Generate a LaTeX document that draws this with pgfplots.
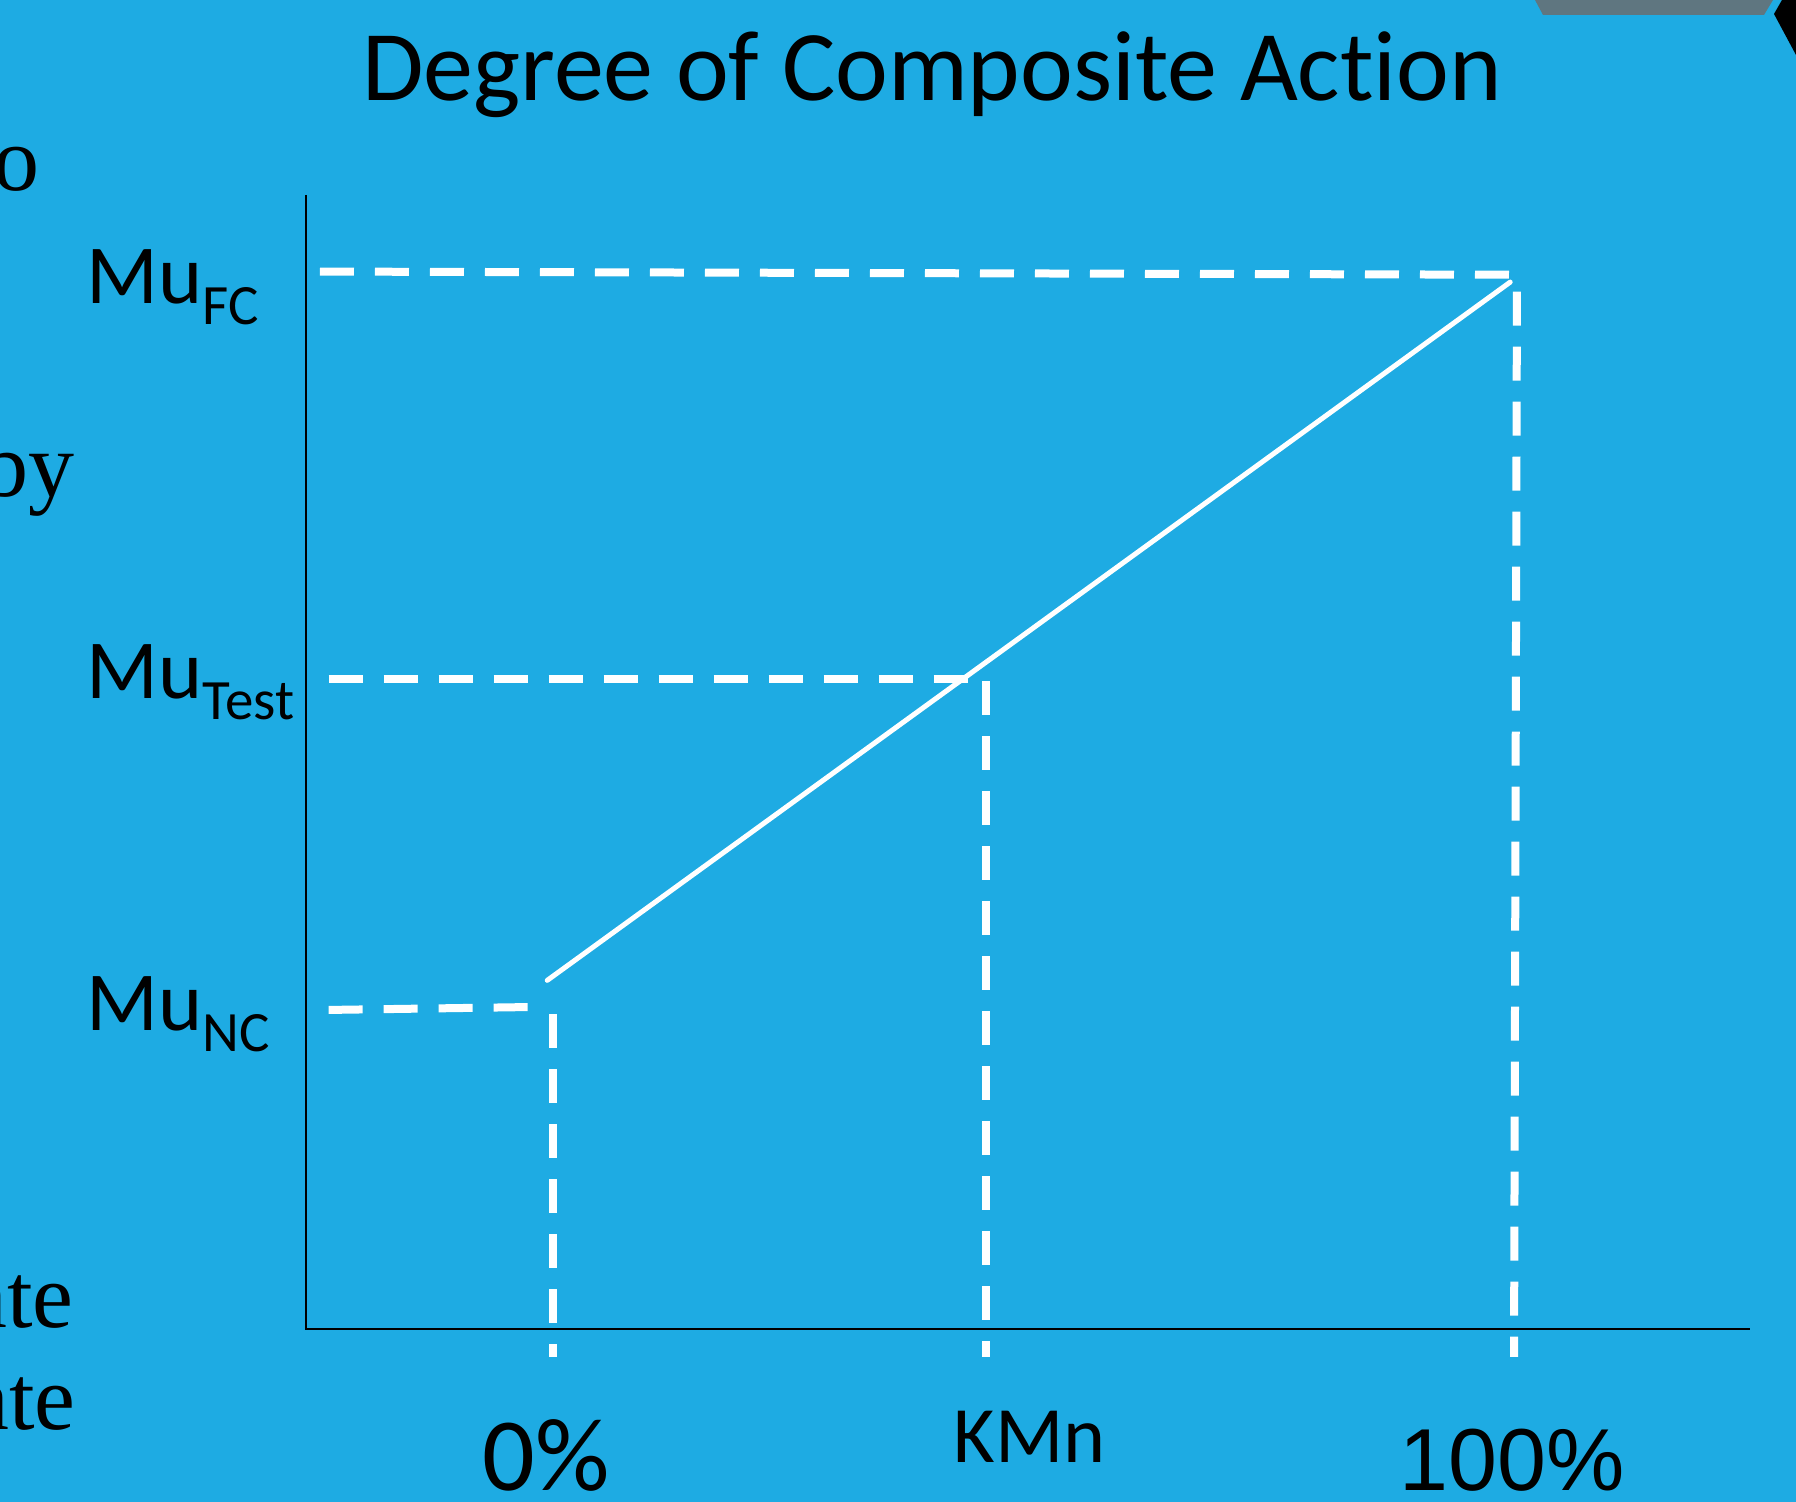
\documentclass[border=0pt]{standalone}
\usepackage{fontspec}
\setmainfont{Carlito}[Ligatures={NoCommon}]
\newfontfamily\seriffont{Liberation Serif}
\newfontfamily\arialfont{Liberation Sans}
\usepackage{pgfplots}
\pgfplotsset{compat=1.18}
\definecolor{slideblue}{RGB}{30,171,227}
\definecolor{greyshape}{RGB}{95,118,128}
\begin{document}
\begin{tikzpicture}
\useasboundingbox (0,0) rectangle (898pt,751pt);
\clip (0,0) rectangle (898pt,751pt);
\fill[slideblue] (0,0) rectangle (898pt,751pt);
\begin{axis}[at={(0,0)}, anchor=south west, scale only axis,
  width=898pt, height=751pt,
  xmin=-57.43, xmax=129.08, ymin=-16.38, ymax=125.81,
  hide axis, clip=false,
  dashline/.style={white, line width=4pt, dash pattern=on 17pt off 10.5pt}]
% axes
\addplot[black, line width=1pt] coordinates {(-25.65,107.35) (-25.65,0) (124.3,0)};
% dashed guide lines
\addplot[dashline] coordinates {(-24.2,100.1) (99.4,99.8)};
\addplot[dashline] coordinates {(100.1,98.2) (99.8,-2.65)};
\addplot[dashline] coordinates {(-23.3,61.5) (44.65,61.5)};
\addplot[dashline] coordinates {(45.0,61.3) (45.0,-2.65)};
\addplot[dashline] coordinates {(-23.3,30.2) (-0.5,30.5)};
\addplot[dashline] coordinates {(0,29.8) (0,-2.65)};
% composite action line
\addplot[white, line width=2.5pt, line cap=round] coordinates {(-0.6,33.0) (99.4,99.1)};
% labels
\node[anchor=base, inner sep=0, font=\fontsize{50}{50}\selectfont] at (axis cs:39.36,116.27) {Degree of Composite Action};
\node[anchor=base west, inner sep=0, font=\fontsize{42}{42}\selectfont] at (axis cs:-48.5,97.07) {Mu\raisebox{-10.5pt}{\fontsize{28.5}{28.5}\selectfont FC}};
\node[anchor=base west, inner sep=0, font=\fontsize{42}{42}\selectfont] at (axis cs:-48.5,59.67) {Mu\raisebox{-10.5pt}{\fontsize{28.5}{28.5}\selectfont Test}};
\node[anchor=base west, inner sep=0, font=\fontsize{42}{42}\selectfont] at (axis cs:-48.5,28.22) {Mu\raisebox{-10.5pt}{\fontsize{28.5}{28.5}\selectfont NC}};
\node[anchor=base, inner sep=0, font=\fontsize{52}{52}\selectfont] at (axis cs:-0.73,-15.34) {0\%};
\node[anchor=base, inner sep=0, font=\fontsize{40}{40}\selectfont] at (axis cs:49.5,-12.68) {KMn};
\node[anchor=base, inner sep=0, font=\arialfont\fontsize{44}{44}\selectfont] at (axis cs:99.6,-15.25) {100\%};
% clipped slide text at left edge
\node[anchor=base east, inner sep=0, font=\seriffont\fontsize{46}{46}\selectfont] at (axis cs:-53.27,107.82) {to};
\node[anchor=base east, inner sep=0, font=\seriffont\fontsize{46}{46}\selectfont] at (axis cs:-49.6,78.76) {by};
\node[anchor=base east, inner sep=0, font=\seriffont\fontsize{46}{46}\selectfont] at (axis cs:-49.74,0.095) {ate};
\node[anchor=base east, inner sep=0, font=\seriffont\fontsize{46}{46}\selectfont] at (axis cs:-49.53,-9.56) {ate};
\end{axis}
% slide decorations at top right
\fill[greyshape] (767.5pt,751pt) -- (886.5pt,751pt) -- (882pt,743.5pt) -- (771.5pt,743.5pt) -- cycle;
\fill[black] (891pt,751pt) -- (898pt,751pt) -- (898pt,723.5pt) -- (887pt,744pt) -- cycle;
\end{tikzpicture}
\end{document}
